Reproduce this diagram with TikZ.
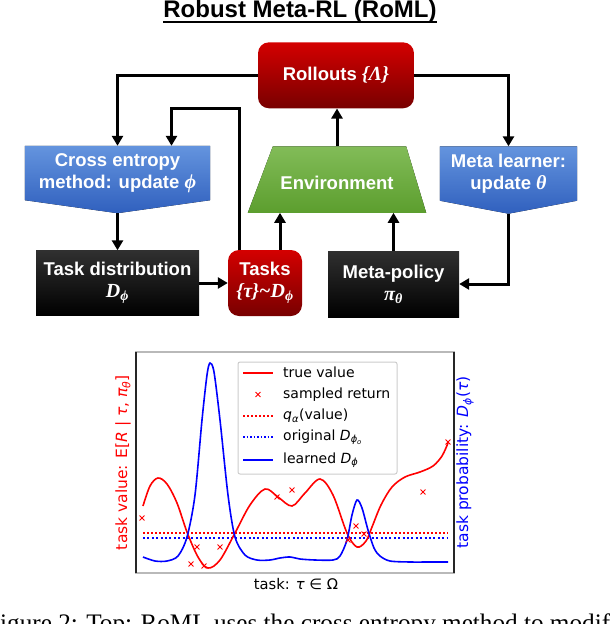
\documentclass[tikz,border=0pt]{standalone}
\usepackage{fontspec}
\setmainfont{Liberation Sans}
\newfontfamily\plotfont{DejaVu Sans}
\newfontfamily\serifont{Liberation Serif}
\usetikzlibrary{arrows.meta,backgrounds}
\definecolor{roll1}{RGB}{212,0,0}
\definecolor{roll2}{RGB}{120,0,0}
\definecolor{blu1}{RGB}{100,148,222}
\definecolor{blu2}{RGB}{48,96,190}
\definecolor{grn1}{RGB}{130,188,88}
\definecolor{grn2}{RGB}{92,158,46}
\definecolor{ink1}{RGB}{48,48,48}
\definecolor{ink2}{RGB}{0,0,0}
\newcommand\bmth[1]{{\serifont\bfseries\itshape\fontsize{20}{22}\selectfont #1}}

\begin{document}
\begin{tikzpicture}[x=1pt,y=-1pt,>={Triangle[length=10pt,width=11pt]},
  flow/.style={->,line width=3pt},
  boxtext/.style={text=white,font=\bfseries\fontsize{18.5}{22}\selectfont,align=center,inner sep=0},
  redbox/.style={boxtext,rounded corners=11pt,top color=roll1,bottom color=roll2},
  blackbox/.style={boxtext,top color=ink1,bottom color=ink2},
  bluefill/.style={top color=blu1,bottom color=blu2},
  greenfill/.style={top color=grn1,bottom color=grn2},
  plottext/.style={font=\plotfont\fontsize{14}{16}\selectfont,inner sep=0},
  axtext/.style={font=\plotfont\fontsize{15.5}{18}\selectfont,inner sep=0},
  truev/.style={red,line width=1.6pt},
  learned/.style={blue,line width=1.6pt},
  qline/.style={red,line width=1.8pt,dash pattern=on 1.8pt off 2.2pt},
  origline/.style={blue,line width=2.4pt,dash pattern=on 2pt off 2.4pt},
  samp/.style={red,line width=1pt,mark size=3.5pt}]
\useasboundingbox (0,0) rectangle (610,624);
% title
\node[anchor=base,inner sep=0,font=\bfseries\fontsize{24}{28}\selectfont] (title) at (300,17.5) {Robust Meta-RL (RoML)};
\draw[line width=2pt] ([yshift=-4pt]title.base west) -- ([yshift=-4pt]title.base east);
% boxes
\node[redbox,minimum width=156,minimum height=66] (roll) at (336,75.3) {Rollouts \bmth{\{Λ\}}};
\node[boxtext,minimum width=185,minimum height=54] (cem) at (117.5,173) {Cross entropy\\method: update \bmth{ϕ}};
\node[boxtext,minimum width=178,minimum height=66,text height=20.5pt] (env) at (337,179.6) {Environment};
\node[boxtext,minimum width=137,minimum height=54] (ml) at (508.5,173.5) {Meta learner:\\update \bmth{θ}};
\node[blackbox,minimum width=163,minimum height=65] (td) at (117.5,283) {Task distribution\\\bmth{D\textsubscript{ϕ}}};
\node[redbox,minimum width=74,minimum height=66] (tasks) at (265,283) {Tasks\\\bmth{\{τ\}\textasciitilde D\textsubscript{ϕ}}};
\node[blackbox,minimum width=131,minimum height=66] (mp) at (393.5,284) {Meta-policy\\\bmth{π\textsubscript{θ}}};
\begin{scope}[on background layer]
\fill[bluefill] (cem.north west) -- (cem.north east) -- (cem.south east) -- ([yshift=-13pt]cem.south) -- (cem.south west) -- cycle;
\fill[bluefill] (ml.north west) -- (ml.north east) -- (ml.south east) -- ([yshift=-13pt]ml.south) -- (ml.south west) -- cycle;
\fill[greenfill] (env.south west) -- ([xshift=25pt]env.north west) -- ([xshift=-20pt]env.north east) -- (env.south east) -- cycle;
\end{scope}
% arrows
\draw[flow] (roll.west) -| (cem.north); \draw[flow] (roll.east) -| (ml.north);
\draw[flow] (env.north) -- (env.north |- roll.south);
\draw[flow] ([xshift=-26pt]tasks.north) |- ([xshift=54pt]cem.north |- roll.south) -- ([xshift=54pt]cem.north);
\draw[flow] ([yshift=-13pt]cem.south) -- (td.north); \draw[flow] (td.east) -- (tasks.west);
\draw[flow] ([xshift=15pt]tasks.north) -- ([xshift=15pt]tasks.north |- env.south); \draw[flow] (mp.north) -- (mp.north |- env.south);
\draw[flow] ([yshift=-13pt]ml.south) |- (mp.east);
% plot
\draw[gray!55,line width=1.2pt] (136,352) rectangle (454,573);
\draw[black!85,line width=1.2pt] (136,352) -- (136,573) (454,352) -- (454,573);
\draw[qline] (143,532.7) -- (448,532.7); \draw[origline] (143,538) -- (448,538);
\draw[truev] plot[smooth,tension=0.55] coordinates {(143,506) (150,486) (158,478) (167,484) (177,503) (187,532) (198,557) (208,568) (220,560) (235,533) (250,505) (265,489) (278,497) (292,506) (305,493) (320,479) (333,495) (347,533) (357,547) (366,541) (372,527) (381,505) (392,487) (405,477) (420,472) (433,466) (442,456) (448,443)};
\draw[learned] plot[smooth,tension=0.5] coordinates {(143,557) (155,561) (167,561) (178,556) (187,537) (195,495) (202,420) (207,375) (210,363) (214,372) (220,420) (228,495) (235,537) (245,555) (257,560) (270,560) (280,558) (290,557) (300,559) (315,560) (333,560) (340,556) (347,540) (352,515) (357,500) (362,508) (368,530) (374,548) (380,556) (390,561) (410,562) (430,562) (448,562)};
\draw[samp] plot[only marks,mark=x] coordinates {(142,518) (191,564) (197,547) (204,566) (220,547) (277,497) (292,490) (348,540) (356,526) (364,534) (423,492) (448,442)};
% legend
\draw[gray!40,fill=white,rounded corners=2pt,line width=1pt] (238,362) rectangle (397,474);
\draw[truev,line width=2pt] (243,372.5) -- (273,372.5); \draw[samp] plot[only marks,mark=x] coordinates {(258,394.5)};
\draw[qline] (243,416) -- (273,416); \draw[blue,line width=1.4pt,dash pattern=on 1.5pt off 2pt] (243,437) -- (273,437);
\draw[learned,line width=2.4pt] (243,460) -- (273,460);
\node[plottext,anchor=west] (lg1) at (283,372.5) {true value};
\node[plottext,anchor=west] (lg2) at (283,394.5) {sampled return};
\node[plottext,anchor=west] (lg3) at (283,416) {{\itshape q}\textsubscript{\itshape α}(value)};
\node[plottext,anchor=west] (lg4) at (283,437) {original {\itshape D}\textsubscript{\itshape ϕ\textsubscript{o}}};
\node[plottext,anchor=west] (lg5) at (283,460) {learned {\itshape D}\textsubscript{\itshape ϕ}};
% axis labels
\node[axtext,text=red,rotate=90] (ylab) at (123,462.5) {task value: E[{\itshape R} | {\itshape τ}, {\itshape π}\textsubscript{\itshape θ}]};
\node[axtext,text=blue,rotate=90] (y2lab) at (465,462.5) {task probability: {\itshape D}\textsubscript{\itshape ϕ}({\itshape τ})};
\node[plottext,anchor=base,font=\plotfont\fontsize{14.7}{17}\selectfont] (xlab) at (296,589) {task: {\itshape τ} ∈ Ω};
% caption
\node[anchor=base west,inner sep=0,font=\serifont\fontsize{25.2}{30}\selectfont] (cap) at (-14,631) {Figure 2: Top: RoML uses the cross entropy method to modify};
\end{tikzpicture}
\end{document}
